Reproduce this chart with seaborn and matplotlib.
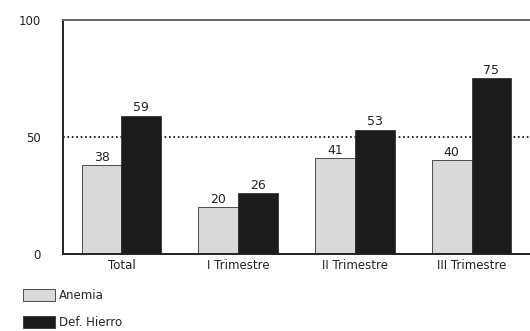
import matplotlib
matplotlib.use("Agg")
import matplotlib.pyplot as plt
import seaborn as sns
import pandas as pd
from matplotlib.patches import Patch

# données
categorias = ["Total", "I Trimestre", "II Trimestre", "III Trimestre"]
anemia = [38, 20, 41, 40]
def_hierro = [59, 26, 53, 75]
series = ["Anemia", "Def. Hierro"]
colores = ["#d9d9d9", "#1c1c1c"]

df = pd.DataFrame({
    "categoria": categorias * 2,
    "valor": anemia + def_hierro,
    "serie": [series[0]] * 4 + [series[1]] * 4,
})

sns.set_style("white")
plt.rcParams["font.family"] = ["DejaVu Sans"]

fig = plt.figure(figsize=(5.3, 3.31), dpi=100)
ax = fig.add_axes([0.119, 0.233, 0.881, 0.707])

sns.barplot(data=df, x="categoria", y="valor", hue="serie", palette=colores,
            width=0.68, gap=0, edgecolor="#333333", linewidth=0.6, ax=ax, legend=False)

# étiquettes de valeur au-dessus des barres
for cont in ax.containers:
    ax.bar_label(cont, fontsize=9, padding=1, color="#222222")

ax.axhline(50, color="black", linestyle=":", linewidth=1.2, zorder=0)

ax.set_ylim(0, 100)
ax.set_xlim(-0.5, 3.5)
ax.set_yticks([0, 50, 100])
ax.set_xlabel("")
ax.set_ylabel("")
ax.tick_params(axis="both", length=0, labelsize=8.5, colors="#222222")
ax.tick_params(axis="y", pad=16)
ax.tick_params(axis="x", pad=4)

for s in ["left", "bottom"]:
    ax.spines[s].set_color("#222222")
    ax.spines[s].set_linewidth(1.4)
ax.spines["top"].set_color("#666666")
ax.spines["top"].set_linewidth(1.4)
ax.spines["right"].set_visible(False)

handles = [Patch(facecolor=c, edgecolor="#333333", linewidth=0.6) for c in colores]
fig.legend(handles, series, loc="upper left", bbox_to_anchor=(0.043, 0.126),
           frameon=False, fontsize=8.5, handlelength=2.7, handleheight=1.2,
           labelspacing=1.15, handletextpad=0.4, borderaxespad=0, borderpad=0)

fig.savefig("out.png", dpi=100)
